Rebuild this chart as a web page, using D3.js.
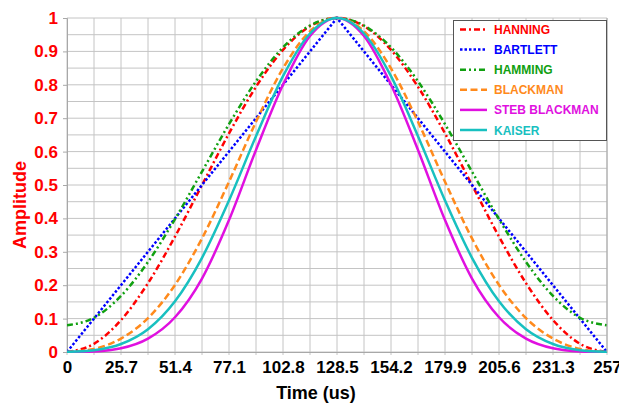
<!DOCTYPE html>
<html>
<head>
<meta charset="utf-8">
<script src="https://cdn.jsdelivr.net/npm/d3@7"></script>
<style>
  html, body { margin: 0; padding: 0; background: #ffffff; }
  svg { display: block; }
</style>
</head>
<body>
<svg id="chart" width="619" height="403"></svg>
<script>
// ---------- DATA ----------
const time = [0, 12.85, 25.7, 38.55, 51.4, 64.25, 77.1, 89.95, 102.8, 115.65, 128.5,
              141.35, 154.2, 167.05, 179.9, 192.75, 205.6, 218.45, 231.3, 244.15, 257];
const xTickValues = [0, 25.7, 51.4, 77.1, 102.8, 128.5, 154.2, 179.9, 205.6, 231.3, 257];
const xTickLabels = ["0", "25.7", "51.4", "77.1", "102.8", "128.5", "154.2", "179.9", "205.6", "231.3", "257"];
const yTickValues = [0, 0.1, 0.2, 0.3, 0.4, 0.5, 0.6, 0.7, 0.8, 0.9, 1];
const yTickLabels = ["0", "0.1", "0.2", "0.3", "0.4", "0.5", "0.6", "0.7", "0.8", "0.9", "1"];

const seriesNames = ["HANNING", "BARTLETT", "HAMMING", "BLACKMAN", "STEB BLACKMAN", "KAISER"];
const hanning  = [0, 0.0245, 0.0955, 0.2061, 0.3455, 0.5, 0.6545, 0.7939, 0.9045, 0.9755, 1,
                  0.9755, 0.9045, 0.7939, 0.6545, 0.5, 0.3455, 0.2061, 0.0955, 0.0245, 0];
const bartlett = [0, 0.1, 0.2, 0.3, 0.4, 0.5, 0.6, 0.7, 0.8, 0.9, 1,
                  0.9, 0.8, 0.7, 0.6, 0.5, 0.4, 0.3, 0.2, 0.1, 0];
const hamming  = [0.08, 0.1025, 0.1679, 0.2696, 0.3979, 0.54, 0.6821, 0.8104, 0.9121, 0.9775, 1,
                  0.9775, 0.9121, 0.8104, 0.6821, 0.54, 0.3979, 0.2696, 0.1679, 0.1025, 0.08];
const blackman = [0, 0.0092, 0.0402, 0.1014, 0.2008, 0.34, 0.5098, 0.6892, 0.8492, 0.9603, 1,
                  0.9603, 0.8492, 0.6892, 0.5098, 0.34, 0.2008, 0.1014, 0.0402, 0.0092, 0];
const stebBlackman = [0, 0.0018, 0.011, 0.04, 0.104, 0.22, 0.395, 0.605, 0.80, 0.946, 1,
                  0.946, 0.80, 0.605, 0.395, 0.22, 0.104, 0.04, 0.011, 0.0018, 0];
const kaiser   = [0.0004, 0.0055, 0.0239, 0.0682, 0.1518, 0.282, 0.4538, 0.6461, 0.8258, 0.9536, 1,
                  0.9536, 0.8258, 0.6461, 0.4538, 0.282, 0.1518, 0.0682, 0.0239, 0.0055, 0.0004];

// ---------- STYLES ----------
const seriesValues = [hanning, bartlett, hamming, blackman, stebBlackman, kaiser];
const seriesColors = ["#ff0000", "#0000ff", "#10a010", "#ff8a1c", "#e010e0", "#18c0c0"];
const seriesDash   = ["6,3,2,3", "2.5,2", "6,3,2,3,2,3", "7,3.5", null, null];
const seriesLinear = [false, true, false, false, false, false];

// ---------- LAYOUT ----------
const svg = d3.select("#chart");
const x = d3.scaleLinear().domain([0, 257]).range([67, 607]);
const y = d3.scaleLinear().domain([0, 1]).range([352, 18]);
const font = "Arial, 'Liberation Sans', sans-serif";

// grid
const gridG = svg.append("g");
gridG.selectAll("line.v").data(time).enter().append("line")
  .attr("x1", d => x(d)).attr("x2", d => x(d))
  .attr("y1", y(1)).attr("y2", y(0) + 3)
  .attr("stroke", "#c4c4c4").attr("stroke-width", 1);
const yGrid = d3.range(0, 21).map(i => i * 0.05);
gridG.selectAll("line.h").data(yGrid).enter().append("line")
  .attr("x1", x(0)).attr("x2", x(257))
  .attr("y1", d => y(d)).attr("y2", d => y(d))
  .attr("stroke", "#c4c4c4").attr("stroke-width", 1);

// axes
const yAxis = d3.axisLeft(y).tickValues(yTickValues)
  .tickFormat((d, i) => yTickLabels[i]).tickSize(4).tickPadding(5);
const yg = svg.append("g").attr("transform", `translate(${x(0)},0)`).call(yAxis);
yg.select(".domain").attr("stroke", "#a8a8a8");
yg.selectAll(".tick line").attr("stroke", "#a8a8a8");
yg.selectAll("text").attr("fill", "#ff0000").style("font-family", font)
  .style("font-weight", "bold").style("font-size", "17px");

const xAxis = d3.axisBottom(x).tickValues(xTickValues)
  .tickFormat((d, i) => xTickLabels[i]).tickSize(0).tickPadding(9);
const xg = svg.append("g").attr("transform", `translate(0,${y(0)})`).call(xAxis);
xg.select(".domain").attr("stroke", "#a8a8a8");
xg.selectAll("text").attr("fill", "#000000").style("font-family", font)
  .style("font-weight", "bold").style("font-size", "17px");

// axis titles
svg.append("text").attr("x", 316).attr("y", 399).attr("text-anchor", "middle")
  .style("font-family", font).style("font-weight", "bold").style("font-size", "18px")
  .attr("fill", "#000").text("Time (us)");
svg.append("text").attr("transform", "translate(26,205) rotate(-90)")
  .attr("text-anchor", "middle")
  .style("font-family", font).style("font-weight", "bold").style("font-size", "18px")
  .attr("fill", "#ff0000").text("Amplitude");

// clip
svg.append("clipPath").attr("id", "plotclip").append("rect")
  .attr("x", x(0)).attr("y", y(1) - 3).attr("width", x(257) - x(0) + 2).attr("height", y(0) - y(1) + 4);

// lines
const lineSmooth = d3.line().x((d, i) => x(time[i])).y(d => y(d)).curve(d3.curveMonotoneX);
const lineStraight = d3.line().x((d, i) => x(time[i])).y(d => y(d)).curve(d3.curveLinear);
const linesG = svg.append("g").attr("clip-path", "url(#plotclip)");
seriesValues.forEach((vals, s) => {
  linesG.append("path")
    .attr("d", (seriesLinear[s] ? lineStraight : lineSmooth)(vals))
    .attr("fill", "none")
    .attr("stroke", seriesColors[s])
    .attr("stroke-width", 2.5)
    .attr("stroke-dasharray", seriesDash[s]);
});

// plot border (top/right)
svg.append("line").attr("x1", x(257)).attr("x2", x(257)).attr("y1", y(1)).attr("y2", y(0))
  .attr("stroke", "#a8a8a8");

// legend
const lg = svg.append("g");
lg.append("rect").attr("x", 453.5).attr("y", 20.5).attr("width", 153).attr("height", 120)
  .attr("fill", "#ffffff").attr("stroke", "#555555").attr("stroke-width", 1);
seriesNames.forEach((name, s) => {
  const cy = 29.5 + s * 20.1;
  lg.append("line").attr("x1", 460).attr("x2", 487).attr("y1", cy).attr("y2", cy)
    .attr("stroke", seriesColors[s]).attr("stroke-width", 2.5)
    .attr("stroke-dasharray", seriesDash[s]);
  lg.append("text").attr("x", 494).attr("y", cy + 4.5)
    .style("font-family", font).style("font-weight", "bold").style("font-size", "12px")
    .attr("fill", seriesColors[s]).text(name);
});
</script>
</body>
</html>
